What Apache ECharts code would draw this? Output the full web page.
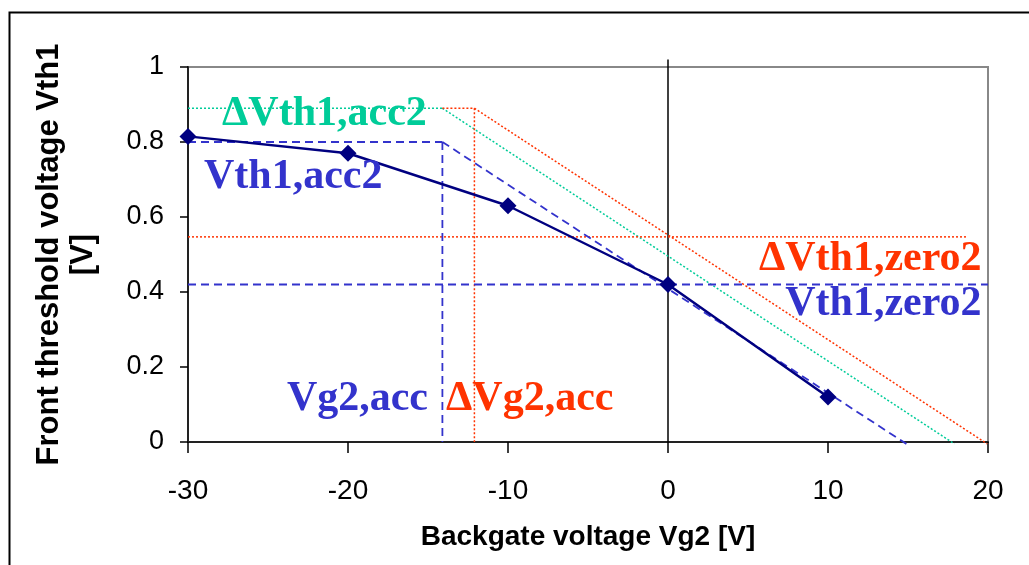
<!DOCTYPE html>
<html><head><meta charset="utf-8">
<script src="https://cdn.jsdelivr.net/npm/echarts@6/dist/echarts.min.js"></script>
<style>html,body{margin:0;padding:0;background:#fff}#c{width:1029px;height:565px}</style>
</head><body><div id="c"></div>
<script>
// Measured curve
const vg2 = [-30, -20, -10, 0, 10];
const vth1 = [0.815, 0.77, 0.63, 0.42, 0.12];
// Characteristic values
const vg2Acc = -14.1;
const vg2AccDelta = -12.1;
const vth1Acc2 = 0.80;
const dVth1Acc2 = 0.89;
const vth1Zero2 = 0.42;
const dVth1Zero2 = 0.547;
// Construction lines (endpoints in data units)
const blueSlope = [[vg2Acc, vth1Acc2], [14.9, -0.005]];
const greenSlope = [[vg2Acc, dVth1Acc2], [17.9, -0.005]];
const redSlope = [[vg2AccDelta, dVth1Acc2], [19.95, -0.005]];
const blueAccH = [[-30, vth1Acc2], [vg2Acc, vth1Acc2]];
const blueAccV = [[vg2Acc, vth1Acc2], [vg2Acc, 0]];
const blueZeroH = [[-30, vth1Zero2], [20, vth1Zero2]];
const greenAccH = [[-30, dVth1Acc2], [vg2Acc, dVth1Acc2]];
const redAccH = [[vg2Acc, dVth1Acc2], [vg2AccDelta, dVth1Acc2]];
const redAccV = [[vg2AccDelta, dVth1Acc2], [vg2AccDelta, 0]];
const redZeroH = [[-30, dVth1Zero2], [18.75, dVth1Zero2]];
const zeroV = [[0, 0], [0, 1.02]];
// Tick labels
const xTicks = [-30, -20, -10, 0, 10, 20];
const yTicks = [0, 0.2, 0.4, 0.6, 0.8, 1];
// Annotations: text, anchor in data units, side
const annTexts = ['ΔVth1,acc2', 'Vth1,acc2', 'ΔVth1,zero2', 'Vth1,zero2', 'Vg2,acc', 'ΔVg2,acc'];
const annPos = [[-27.875, 0.875], [-29.0, 0.707], [19.6, 0.488], [19.6, 0.368], [-15.0, 0.115], [-13.875, 0.115]];
const annSide = ['right', 'right', 'left', 'left', 'left', 'right'];
const annColor = ['#00CC99', '#3333CC', '#FF3300', '#3333CC', '#3333CC', '#FF3300'];

const BLUE = '#3333CC', GREEN = '#00CC99', RED = '#FF3300', NAVY = '#000080';
function seg(data, color, type, width) {
  return { type: 'line', data: data, symbol: 'none', clip: false, silent: true, z: 2,
    lineStyle: { color: color, type: type, width: width } };
}
const series = [
  seg(zeroV, '#000', 'solid', 1.5),
  seg(greenAccH, GREEN, [2, 2], 1.5),
  seg(greenSlope, GREEN, [2, 2], 1.5),
  seg(redAccH, RED, [2, 2], 1.5),
  seg(redAccV, RED, [2, 2], 1.5),
  seg(redSlope, RED, [2, 2], 1.5),
  seg(redZeroH, RED, [2, 2], 1.5),
  seg(blueAccH, BLUE, [8, 5], 1.8),
  seg(blueAccV, BLUE, [8, 5], 1.8),
  seg(blueZeroH, BLUE, [8, 5], 1.8),
  seg(blueSlope, BLUE, [8, 5], 1.8),
  { type: 'line', data: vg2.map((x, i) => [x, vth1[i]]), symbol: 'diamond', symbolSize: 17, clip: false, z: 5,
    lineStyle: { color: NAVY, width: 2.5 }, itemStyle: { color: NAVY } }
];
annTexts.forEach((t, i) => {
  series.push({ type: 'scatter', data: [annPos[i]], symbolSize: 0, silent: true, z: 6,
    itemStyle: { opacity: 1 },
    label: { show: true, formatter: t, position: annSide[i], distance: 0, opacity: 1,
      fontFamily: 'Liberation Serif', fontWeight: 'bold', fontSize: 42, color: annColor[i] } });
});

const chart = echarts.init(document.getElementById('c'));
chart.setOption({
  animation: false,
  backgroundColor: '#fff',
  grid: { left: 188, right: 41, top: 67, bottom: 123, outerBoundsMode: 'none', containLabel: false,
    show: true, borderColor: '#888', borderWidth: 2, backgroundColor: 'transparent' },
  xAxis: { type: 'value', min: -30, max: 20, interval: 10,
    name: 'Backgate voltage Vg2 [V]', nameLocation: 'middle', nameGap: 81,
    nameTextStyle: { fontFamily: 'Liberation Sans', fontWeight: 'bold', fontSize: 28, color: '#000' },
    axisLine: { show: true, onZero: false, lineStyle: { color: '#222', width: 2 } },
    axisTick: { show: true, length: 11, lineStyle: { color: '#000', width: 1.5 } },
    axisLabel: { fontFamily: 'Liberation Sans', fontSize: 28, color: '#000', margin: 35,
      formatter: v => xTicks.includes(v) ? String(v) : '' },
    splitLine: { show: false } },
  yAxis: { type: 'value', min: 0, max: 1, interval: 0.2,
    name: 'Front threshold voltage Vth1\n[V]', nameLocation: 'middle', nameGap: 88, nameRotate: 90,
    nameTextStyle: { fontFamily: 'Liberation Sans', fontWeight: 'bold', fontSize: 31, color: '#000', lineHeight: 34 },
    axisLine: { show: true, onZero: false, lineStyle: { color: '#222', width: 2 } },
    axisTick: { show: true, length: 8, lineStyle: { color: '#000', width: 1.5 } },
    axisLabel: { fontFamily: 'Liberation Sans', fontSize: 27, color: '#000', margin: 24,
      formatter: v => { const t = yTicks.find(k => Math.abs(k - v) < 1e-9); return t === undefined ? '' : String(t); } },
    splitLine: { show: false } },
  graphic: [{ type: 'rect', left: 7, top: 10, shape: { width: 1100, height: 600 },
    style: { fill: 'none', stroke: '#000', lineWidth: 2 }, silent: true, z: -1 }],
  series: series
});
</script></body></html>
